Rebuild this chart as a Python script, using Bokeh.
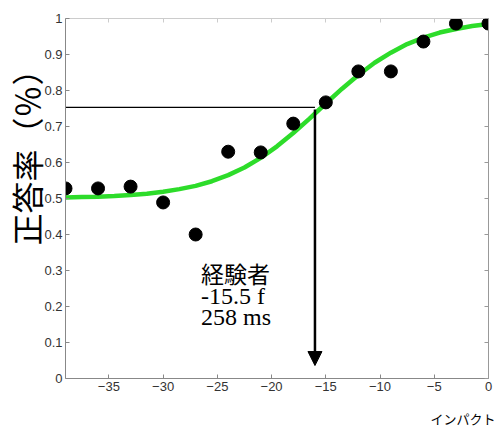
from bokeh.plotting import figure
from bokeh.models import Range1d, LinearAxis, Label, Arrow, NormalHead, FixedTicker, Title
from bokeh.embed import file_html
from bokeh.resources import INLINE

# data
impact_frames = [-39, -36, -33, -30, -27, -24, -21, -18, -15, -12, -9, -6, -3, 0]
correct_rate = [0.528, 0.528, 0.533, 0.489, 0.40, 0.63, 0.628, 0.708, 0.767, 0.853, 0.853, 0.936, 0.986, 0.986]

curve_x = [-39, -37.5, -36, -34.5, -33, -31.5, -30, -28.5, -27, -25.5, -24, -22.5, -21, -19.5, -18, -16.5, -15.5, -15, -13.5, -12, -10.5, -9, -7.5, -6, -4.5, -3, -1.5, 0]
curve_y = [0.503, 0.504, 0.505, 0.507, 0.510, 0.513, 0.519, 0.526, 0.535, 0.548, 0.565, 0.586, 0.613, 0.645, 0.682, 0.722, 0.750, 0.764, 0.805, 0.843, 0.877, 0.905, 0.929, 0.947, 0.961, 0.971, 0.979, 0.985]

threshold_x = -16.0
threshold_y = 0.753
arrow_end_y = 0.036

x_ticks = [-35, -30, -25, -20, -15, -10, -5, 0]
x_tick_labels = ["\u221235", "\u221230", "\u221225", "\u221220", "\u221215", "\u221210", "\u22125", "0"]
y_ticks = [0, 0.1, 0.2, 0.3, 0.4, 0.5, 0.6, 0.7, 0.8, 0.9, 1]
y_tick_labels = ["0", "0.1", "0.2", "0.3", "0.4", "0.5", "0.6", "0.7", "0.8", "0.9", "1"]

group_label = "経験者"
annotation_lines = ["-15.5 f", "258 ms"]
y_title = "正答率（％）"
x_title = "インパクト"

p = figure(width=496, height=427, output_backend="svg", toolbar_location=None,
           x_range=Range1d(-39, 0), y_range=Range1d(0, 1),
           min_border_left=65, min_border_top=18, min_border_right=8, min_border_bottom=49)
p.grid.visible = False
p.outline_line_color = None
p.background_fill_color = "white"

def style_axis(ax, color, labels=True):
    ax.axis_line_color = color
    ax.major_tick_line_color = color
    ax.major_tick_in = 4
    ax.major_tick_out = 0
    ax.minor_tick_line_color = None
    ax.major_label_text_font = "Liberation Sans"
    ax.major_label_text_font_size = "13px" if labels else "0px"
    ax.major_label_text_color = "#333333"
    ax.major_label_standoff = 3 if labels else 0

xa = p.xaxis[0]
xa.ticker = FixedTicker(ticks=x_ticks)
xa.major_label_overrides = {t: l for t, l in zip(x_ticks, x_tick_labels)}
style_axis(xa, "#888888")
ya = p.yaxis[0]
ya.ticker = FixedTicker(ticks=y_ticks)
ya.major_label_overrides = {t: l for t, l in zip(y_ticks, y_tick_labels)}
style_axis(ya, "#888888")

top = LinearAxis(ticker=FixedTicker(ticks=x_ticks))
style_axis(top, "#cccccc", labels=False)
p.add_layout(top, "above")
right = LinearAxis(ticker=FixedTicker(ticks=y_ticks))
style_axis(right, "#999999", labels=False)
p.add_layout(right, "right")

p.add_layout(Title(text=y_title, align="right", offset=35, vertical_align="bottom", standoff=-14,
                   text_font="Noto Sans CJK JP", text_font_size="32px", text_font_style="normal",
                   text_color="black"), "left")
# spacer between the x tick labels and the x title
p.add_layout(Title(text=" ", standoff=9.6, text_font_size="1px"), "below")
p.add_layout(Title(text=x_title, align="right", offset=-7, vertical_align="bottom", standoff=0,
                   text_font="Noto Sans CJK JP", text_font_size="13px", text_font_style="normal",
                   text_color="black"), "below")

p.line(curve_x, curve_y, line_color="#2ddc2a", line_width=4.5)
p.scatter(impact_frames, correct_rate, size=13, color="black")

p.line([-39, threshold_x], [threshold_y, threshold_y], line_color="black", line_width=1.3)
p.add_layout(Arrow(x_start=threshold_x, y_start=threshold_y - 0.006, x_end=threshold_x, y_end=arrow_end_y,
                   line_color="black", line_width=2.5,
                   end=NormalHead(size=14, fill_color="black", line_color="black")))

p.add_layout(Label(x=-26.5, y=0.292, text=group_label, text_font="Noto Sans CJK JP",
                   text_font_size="23px", text_baseline="alphabetic", text_color="black"))
for txt, yy in zip(annotation_lines, [0.228, 0.172]):
    p.add_layout(Label(x=-26.5, y=yy, text=txt, text_font="Liberation Serif",
                       text_font_size="24px", text_baseline="alphabetic", text_color="black"))

open("out.html", "w").write(file_html(p, INLINE))
